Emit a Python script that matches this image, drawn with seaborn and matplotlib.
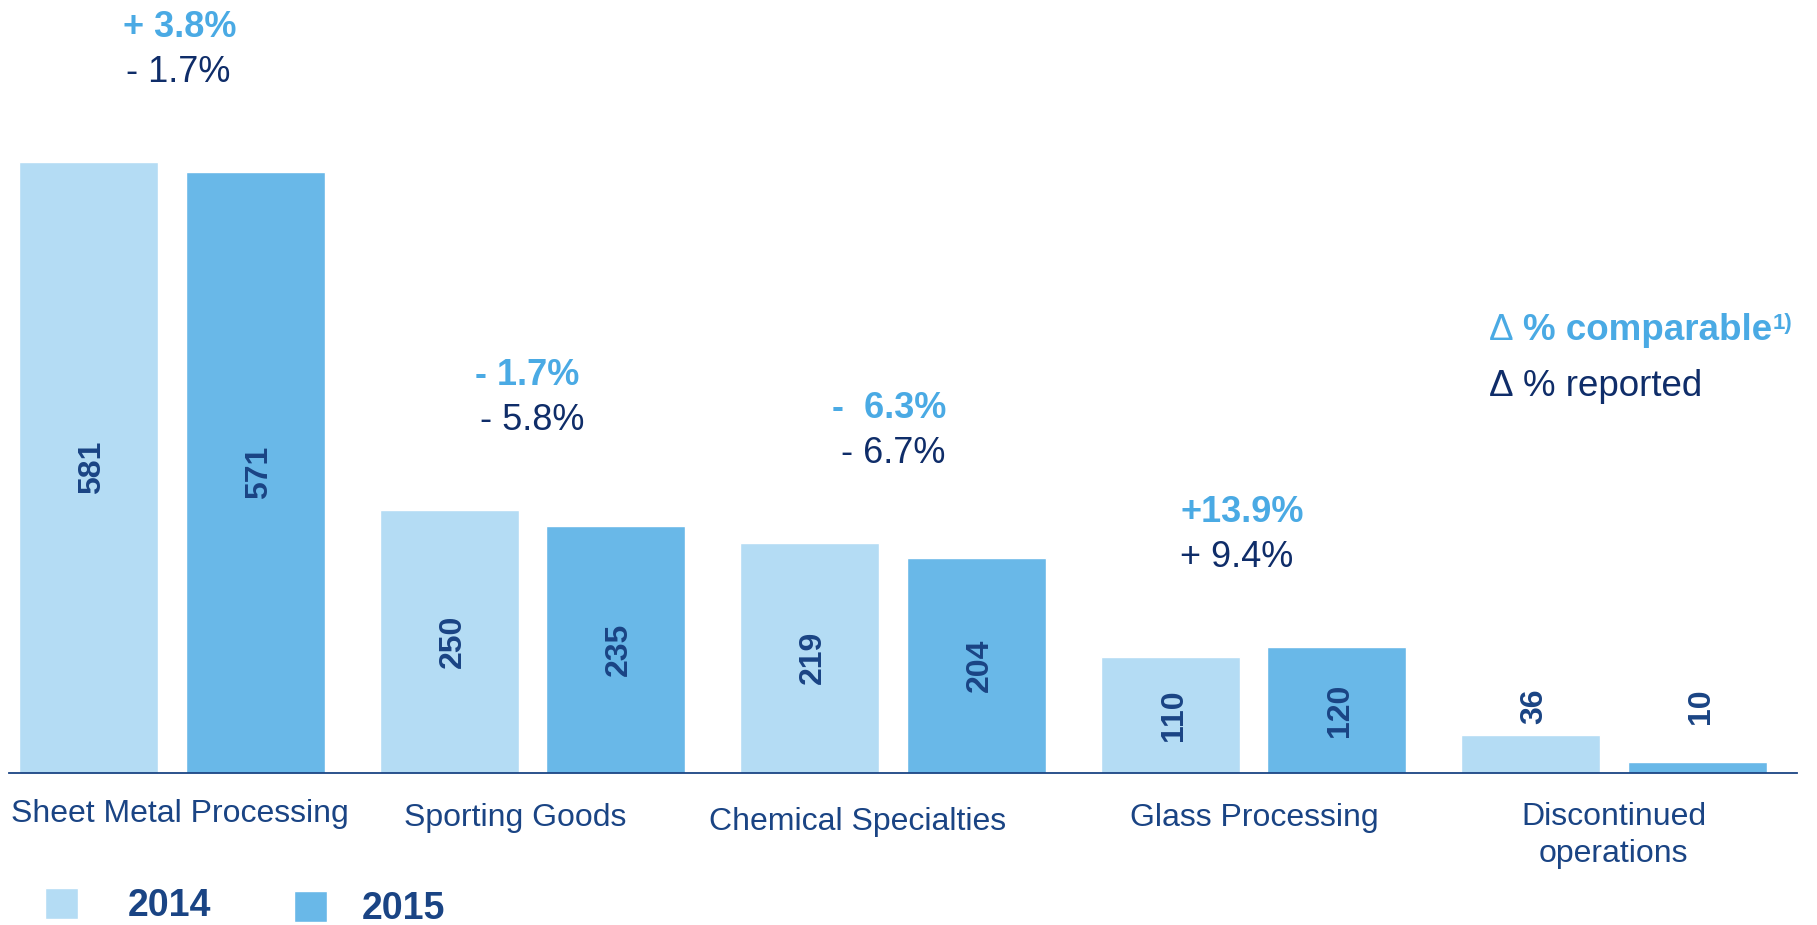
import numpy as np
import pandas as pd
import matplotlib
matplotlib.use("Agg")
import matplotlib.pyplot as plt
from matplotlib import font_manager
import seaborn as sns

# ---------------- data ----------------
categories = ["Sheet Metal Processing", "Sporting Goods", "Chemical Specialties",
              "Glass Processing", "Discontinued\noperations"]
years = ["2014", "2015"]
sales_2014 = [581, 250, 219, 110, 36]
sales_2015 = [571, 235, 204, 120, 10]
delta_comparable = ["+ 3.8%", "- 1.7%", "-  6.3%", "+13.9%", None]
delta_reported = ["- 1.7%", "- 5.8%", "- 6.7%", "+ 9.4%", None]

# ---------------- style ----------------
C2014 = "#B4DCF4"
C2015 = "#69B8E8"
NAVY = "#1A4484"
DNAVY = "#0F2D69"
LBLUE = "#4AAAE4"

sns.set_theme(style="white")
plt.rcParams["font.family"] = ["Liberation Sans", "DejaVu Sans"]

names = {f.name for f in font_manager.fontManager.ttflist}
narrow = "Liberation Sans Narrow" if "Liberation Sans Narrow" in names else "Liberation Sans"
val_size = 27 if narrow != "Liberation Sans" else 23

df = pd.DataFrame({
    "category": categories * 2,
    "year": [years[0]] * len(categories) + [years[1]] * len(categories),
    "sales": sales_2014 + sales_2015,
})

W, H = 1817, 925
PX = 0.72  # points per pixel at dpi 100
fig = plt.figure(figsize=(W / 100, H / 100), dpi=100)
ax = fig.add_axes([9 / W, (H - 773) / H, 1788 / W, 773 / H])

sns.barplot(data=df, x="category", y="sales", hue="year", order=categories,
            hue_order=years, palette=[C2014, C2015], width=0.923, gap=0.164,
            saturation=1, errorbar=None, ax=ax, legend=True)

ax.set_xlim(-0.452, 4.508)
ax.set_ylim(0, 735)
ax.set_xlabel("")
ax.set_ylabel("")
ax.set_yticks([])
for s in ["top", "right", "left"]:
    ax.spines[s].set_visible(False)
ax.spines["bottom"].set_color(NAVY)
ax.spines["bottom"].set_linewidth(1.3)
ax.set_xticks(range(len(categories)))
ax.set_xticklabels([])
ax.tick_params(axis="x", length=0)

# category labels (pixel nudges to follow the reference layout)
cat_dx = [8, -17, -35, 1, 0]
cat_dy = [26, 30, 34, 30, 29]
for i, (cat, dx, dy) in enumerate(zip(categories, cat_dx, cat_dy)):
    ax.annotate(cat, xy=(i, 0), xycoords=("data", "axes fraction"),
                xytext=(dx * PX, -dy * PX), textcoords="offset points",
                ha="center", va="top", fontsize=23, color=NAVY,
                linespacing=1.3, multialignment="center")

# value labels
group_max = [max(a, b) for a, b in zip(sales_2014, sales_2015)]
for cont in ax.containers:
    for i, bar in enumerate(cont):
        v = bar.get_height()
        x = bar.get_x() + bar.get_width() / 2
        if v >= 100:
            ax.text(x, v / 2, f"{int(round(v))}", rotation=90, ha="center",
                    va="center_baseline", rotation_mode="anchor", family=narrow,
                    fontweight="bold", fontsize=val_size, color=NAVY)
        else:
            ax.text(x, group_max[i] + 11, f"{int(round(v))}", rotation=90,
                    ha="left", va="center_baseline", rotation_mode="anchor",
                    family=narrow, fontweight="bold", fontsize=val_size, color=NAVY)

# delta annotations
comp_dx = [8, -5, -4, -11, 0]
rep_dx = [6, 0, 0, -17, 0]
for i, (c, r) in enumerate(zip(delta_comparable, delta_reported)):
    if c is None:
        continue
    ax.annotate(c, xy=(i, group_max[i] + 119), xytext=(comp_dx[i] * PX, 0),
                textcoords="offset points", ha="center", va="baseline",
                fontsize=26, fontweight="bold", color=LBLUE)
    ax.annotate(r, xy=(i, group_max[i] + 76), xytext=(rep_dx[i] * PX, 0),
                textcoords="offset points", ha="center", va="baseline",
                fontsize=26, color=DNAVY)

# key text at right
fig.text(1489 / W, 1 - 340 / H, "Δ", fontsize=26.5, color=LBLUE, va="baseline")
fig.text(1523 / W, 1 - 340 / H, "% comparable", fontsize=26.5, fontweight="bold",
         color=LBLUE, va="baseline")
fig.text(1773 / W, 1 - 329 / H, "1)", fontsize=16, fontweight="bold",
         color=LBLUE, va="baseline")
fig.text(1489 / W, 1 - 396 / H, "Δ", fontsize=26.5, color=DNAVY, va="baseline")
fig.text(1523 / W, 1 - 396 / H, "% reported", fontsize=26.5, color=DNAVY, va="baseline")

# legend (one entry each, as the spacing differs in the reference)
handles, labels = ax.get_legend_handles_labels()
ax.get_legend().remove()
leg_pos = [(45, 906, 1.33), (294, 909, 0.92)]
for h, l, (lx, ly, pad) in zip(handles, labels, leg_pos):
    leg = fig.legend([h], [l], loc="center left", bbox_to_anchor=(lx / W, 1 - ly / H),
                     frameon=False, borderpad=0, borderaxespad=0,
                     handlelength=0.88, handleheight=0.88, handletextpad=pad,
                     prop={"size": 27, "weight": "bold"})
    for t in leg.get_texts():
        t.set_color(NAVY)

fig.savefig("out.png", dpi=100)
